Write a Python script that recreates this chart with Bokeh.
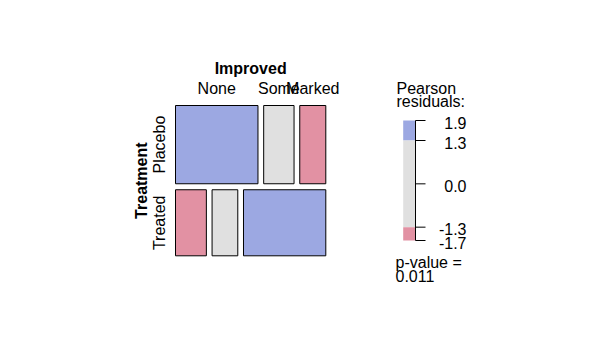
import math
from bokeh.plotting import figure
from bokeh.models import Range1d, ColumnDataSource
from bokeh.core.properties import value
from bokeh.embed import file_html
from bokeh.resources import INLINE

# ---- data (Arthritis, female patients) ----
treatment = ["Placebo", "Treated"]
improved = ["None", "Some", "Marked"]
counts_placebo = [19, 7, 6]
counts_treated = [6, 5, 16]
legend_ticks = [1.9, 1.3, 0.0, -1.3, -1.7]
shade_cut = 1.3
p_value_text = "0.011"

counts = [counts_placebo, counts_treated]

BLUE = "#9CA8E2"
RED = "#E291A3"
GRAY = "#E0E0E0"
FONT = "Liberation Sans"
FS = "16px"

# ---- residuals ----
n = sum(sum(r) for r in counts)
row_tot = [sum(r) for r in counts]
col_tot = [sum(counts[i][j] for i in range(2)) for j in range(3)]
resid = [[(counts[i][j] - row_tot[i] * col_tot[j] / n) / math.sqrt(row_tot[i] * col_tot[j] / n)
          for j in range(3)] for i in range(2)]

def shade(r):
    if r > shade_cut:
        return BLUE
    if r < -shade_cut:
        return RED
    return GRAY

# ---- figure: data coords = page pixels ----
p = figure(width=589, height=353, x_range=Range1d(0, 589), y_range=Range1d(353, 0),
           output_backend="svg", toolbar_location=None, min_border=0)
p.axis.visible = False
p.grid.visible = False
p.outline_line_color = None

# mosaic geometry
X0, X1, Y0, Y1 = 175.0, 325.3, 105.0, 255.3
GX, GY = 5.7, 6.0
avail_h = (Y1 - Y0) - GY * (len(treatment) - 1)
avail_w = (X1 - X0) - GX * (len(improved) - 1)

L, R, T, B, C = [], [], [], [], []
row_centers = []
top_col_centers = []
y = Y0
for i in range(len(treatment)):
    h = avail_h * row_tot[i] / n
    x = X0
    for j in range(len(improved)):
        w = avail_w * counts[i][j] / row_tot[i]
        L.append(x); R.append(x + w); T.append(y); B.append(y + h)
        C.append(shade(resid[i][j]))
        if i == 0:
            top_col_centers.append(x + w / 2)
        x += w + GX
    row_centers.append(y + h / 2)
    y += h + GY

p.quad(left="left", right="right", top="top", bottom="bottom", fill_color="color",
       line_color="black", line_width=1,
       source=ColumnDataSource(dict(left=L, right=R, top=T, bottom=B, color=C)))

# labels
p.text(x=[(X0 + X1) / 2], y=[68], text=["Improved"], text_font=value(FONT), text_font_size=FS,
       text_font_style="bold", text_align="center", text_baseline="middle")
p.text(x=top_col_centers, y=[88] * 3, text=improved, text_font=value(FONT), text_font_size=FS,
       text_align="center", text_baseline="middle")
p.text(x=[158.5] * 2, y=row_centers, text=treatment, text_font=value(FONT), text_font_size=FS,
       text_align="center", text_baseline="middle", angle=math.pi / 2)
p.text(x=[140.5], y=[(Y0 + Y1) / 2], text=["Treatment"], text_font=value(FONT), text_font_size=FS,
       text_font_style="bold", text_align="center", text_baseline="middle", angle=math.pi / 2)

# legend
LX0, LX1, LY0, LY1 = 402.7, 415.0, 120.0, 240.0
vmax, vmin = max(legend_ticks), min(legend_ticks)
def ly(v):
    return LY0 + (vmax - v) * (LY1 - LY0) / (vmax - vmin)

seg_top = [vmax, shade_cut, -shade_cut]
seg_bot = [shade_cut, -shade_cut, vmin]
p.quad(left=[LX0] * 3, right=[LX1] * 3, top=[ly(v) for v in seg_top],
       bottom=[ly(v) for v in seg_bot], fill_color=[BLUE, GRAY, RED], line_color=None)
p.segment(x0=[LX1], y0=[ly(vmax)], x1=[LX1], y1=[ly(vmin)], line_color="black", line_width=1)
p.segment(x0=[LX1] * len(legend_ticks), y0=[ly(v) for v in legend_ticks],
          x1=[LX1 + 10] * len(legend_ticks), y1=[ly(v) for v in legend_ticks],
          line_color="black", line_width=1)
p.text(x=[466] * len(legend_ticks), y=[ly(v) + 2 for v in legend_ticks],
       text=["%.1f" % v for v in legend_ticks], text_font=value(FONT), text_font_size=FS,
       text_align="right", text_baseline="middle")
p.text(x=[396, 396], y=[88, 101], text=["Pearson", "residuals:"], text_font=value(FONT),
       text_font_size=FS, text_align="left", text_baseline="middle")
p.text(x=[395, 395], y=[262, 275], text=["p-value =", p_value_text], text_font=value(FONT),
       text_font_size=FS, text_align="left", text_baseline="middle")

open("out.html", "w").write(file_html(p, INLINE))
